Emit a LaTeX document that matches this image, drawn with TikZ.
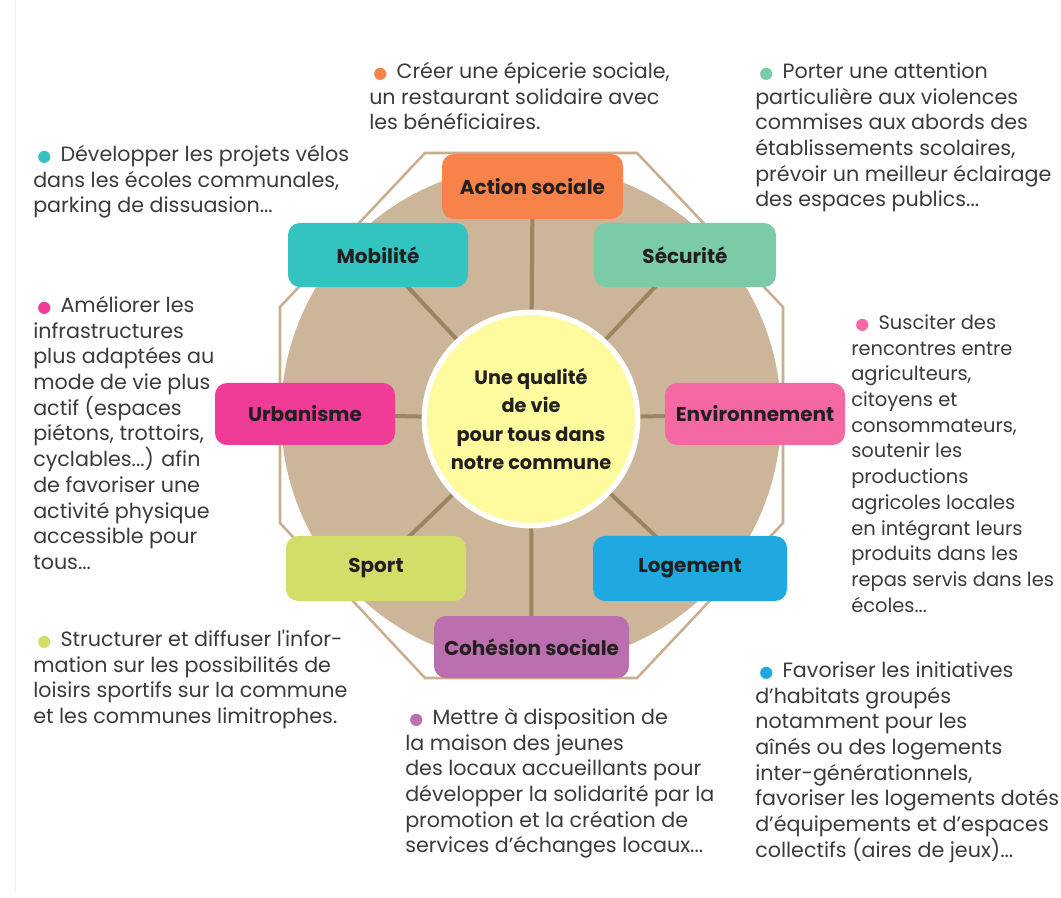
\documentclass[tikz,border=0pt]{standalone}
\usepackage{fontspec}
\setmainfont{Poppins}
\newfontfamily\dejavu{DejaVu Sans}
\definecolor{cact}{HTML}{F7834B}
\definecolor{cmob}{HTML}{33C4C1}
\definecolor{csec}{HTML}{7BCBA8}
\definecolor{curb}{HTML}{EE3C97}
\definecolor{cenv}{HTML}{F468A4}
\definecolor{cspo}{HTML}{D2DE68}
\definecolor{clog}{HTML}{20A8E0}
\definecolor{ccoh}{HTML}{BC6FAF}
\definecolor{disc}{HTML}{CDB599}
\definecolor{octo}{HTML}{C9AE8F}
\definecolor{spoke}{HTML}{9C8462}
\definecolor{yel}{HTML}{FEFB9F}
\definecolor{bodytext}{HTML}{3B3B3B}
\definecolor{labtext}{HTML}{231F20}
\definecolor{faint}{HTML}{EEEEEE}
\newcommand{\bul}[1]{\hspace*{3pt}{\color{#1}\dejavu\fontsize{12}{12}\selectfont ●}\hspace*{7pt}}
\newcommand{\tp}{\rule{0pt}{16pt}}
\pgfdeclarelayer{back}\pgfdeclarelayer{mid}\pgfsetlayers{back,mid,main}
\begin{document}
\begin{tikzpicture}[x=0.75pt,y=-0.75pt,
  box/.style={rounded corners=9pt, inner sep=0pt, text=labtext, font=\bfseries\fontsize{15}{17}\selectfont},
  txt/.style={anchor=north west, inner sep=0pt, align=left, text=bodytext, font=\fontsize{15.5}{19.3}\selectfont},
  spk/.style={draw=spoke, line width=3pt}]
\useasboundingbox (0,0) rectangle (1061,898);
\begin{pgfonlayer}{back}
\fill[white] (0,0) rectangle (1061,898);
\draw[faint, line width=0.75pt] (15,0) -- (15,893);
\draw[octo, line width=1.9pt, line join=miter] (425,153) -- (637,153) -- (783,307) -- (783,523) -- (637,678) -- (425,678) -- (280,523) -- (280,307) -- cycle;
\fill[disc] (531,415) circle[radius=250];
\end{pgfonlayer}
% center
\node[circle, minimum size=160pt, fill=yel, draw=white, line width=4pt, align=center, text=labtext,
      font=\bfseries\fontsize{14.5}{21.4}\selectfont] (ctr) at (531,419) {Une qualité\\de vie\\pour tous dans\\notre commune};
% boxes
\node[box, fill=cact, minimum width=135.75pt, minimum height=48.75pt] (act) at (532.5,186.5) {Action sociale};
\node[box, fill=cmob, minimum width=135pt, minimum height=48pt] (mob) at (378,255) {Mobilité};
\node[box, fill=csec, minimum width=136.5pt, minimum height=48pt] (sec) at (685,255) {Sécurité};
\node[box, fill=curb, minimum width=135pt, minimum height=46.5pt] (urb) at (305,414) {Urbanisme};
\node[box, fill=cenv, minimum width=135pt, minimum height=46.5pt] (env) at (755,414) {Environnement};
\node[box, fill=cspo, minimum width=135pt, minimum height=48.75pt] (spo) at (376,568.5) {Sport};
\node[box, fill=clog, minimum width=145.5pt, minimum height=48.75pt] (log) at (690,568.5) {Logement};
\node[box, fill=ccoh, minimum width=146.25pt, minimum height=46.5pt] (coh) at (531.5,647) {Cohésion sociale};
% spokes
\begin{pgfonlayer}{mid}
\foreach \b in {act,mob,sec,urb,env,spo,log,coh} \draw[spk] (ctr.center) -- (\b.center);
\end{pgfonlayer}
% texts
\node[txt] (ttc) at (369,56.7) {\tp\bul{cact}Créer une épicerie sociale,\\un restaurant solidaire avec\\les bénéficiaires.};
\node[txt] (ttr) at (755,56.7) {\tp\bul{csec}Porter une attention\\particulière aux violences\\commises aux abords des\\établissements scolaires,\\prévoir un meilleur éclairage\\des espaces publics...};
\node[txt] (ttl) at (33,139.7) {\tp\bul{cmob}Développer les projets vélos\\dans les écoles communales,\\parking de dissuasion...};
\node[txt] (tl) at (33,290.7) {\tp\bul{curb}Améliorer les\\infrastructures\\plus adaptées au\\mode de vie plus\\actif (espaces\\piétons, trottoirs,\\cyclables...) afin\\de favoriser une\\activité physique\\accessible pour\\tous...};
\node[txt] (tlb) at (33,624.7) {\tp\bul{cspo}Structurer et diffuser l\textquotesingle infor-\\mation sur les possibilités de\\loisirs sportifs sur la commune\\et les communes limitrophes.};
\node[txt] (tbc) at (405,702.7) {\tp\bul{ccoh}Mettre à disposition de\\la maison des jeunes\\des locaux accueillants pour\\développer la solidarité par la\\promotion et la création de\\services d’échanges locaux...};
\node[txt, font=\fontsize{14.6}{19.3}\selectfont] (tr) at (851,307.7) {\tp\bul{cenv}Susciter des\\rencontres entre\\agriculteurs,\\citoyens et\\consommateurs,\\soutenir les\\productions\\agricoles locales\\en intégrant leurs\\produits dans les\\repas servis dans les\\écoles...};
\node[txt] (tbr) at (755,655.7) {\tp\bul{clog}Favoriser les initiatives\\d’habitats groupés\\notamment pour les\\aînés ou des logements\\inter-générationnels,\\favoriser les logements dotés\\d’équipements et d’espaces\\collectifs (aires de jeux)...};
\end{tikzpicture}
\end{document}
